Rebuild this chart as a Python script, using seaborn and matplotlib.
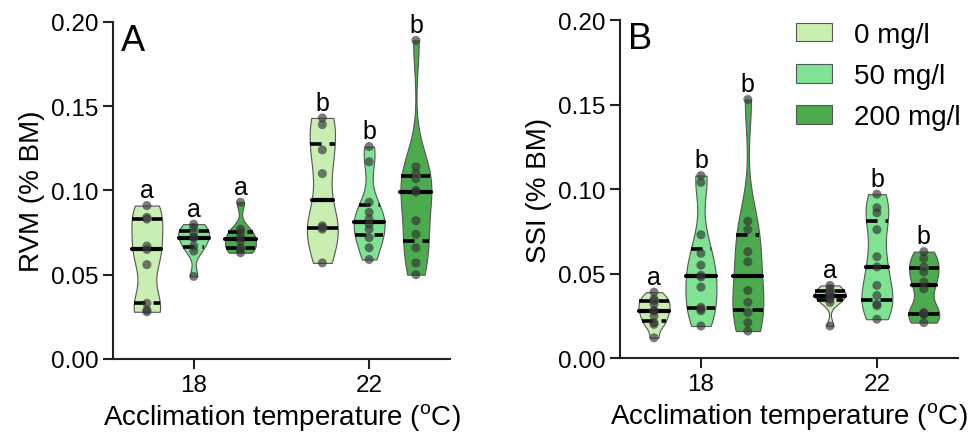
import numpy as np
import pandas as pd
import matplotlib
matplotlib.use("Agg")
import matplotlib.pyplot as plt
import seaborn as sns

temps = ["18", "22"]
doses = ["0 mg/l", "50 mg/l", "200 mg/l"]
colors = ["#c8eeb2", "#7fe393", "#4cab4f"]

# RVM (% BM), panel A
rvm_18_0 = [0.091, 0.084, 0.083, 0.067, 0.065, 0.056, 0.033, 0.029, 0.028]
rvm_18_50 = [0.080, 0.078, 0.075, 0.072, 0.072, 0.067, 0.064, 0.049]
rvm_18_200 = [0.093, 0.077, 0.075, 0.072, 0.070, 0.066, 0.065, 0.063]
rvm_22_0 = [0.143, 0.139, 0.124, 0.110, 0.079, 0.078, 0.077, 0.057]
rvm_22_50 = [0.126, 0.117, 0.093, 0.087, 0.083, 0.080, 0.077, 0.072, 0.066, 0.059]
rvm_22_200 = [0.189, 0.114, 0.110, 0.107, 0.100, 0.099, 0.082, 0.074, 0.066, 0.057, 0.050]
letters_rvm = ["a", "a", "a", "b", "b", "b"]

# SSI (% BM), panel B
ssi_18_0 = [0.039, 0.035, 0.034, 0.032, 0.028, 0.028, 0.025, 0.021, 0.020, 0.012]
ssi_18_50 = [0.108, 0.104, 0.073, 0.062, 0.055, 0.049, 0.048, 0.042, 0.030, 0.029, 0.028, 0.019]
ssi_18_200 = [0.153, 0.081, 0.076, 0.063, 0.057, 0.040, 0.033, 0.027, 0.021, 0.016]
ssi_22_0 = [0.043, 0.041, 0.039, 0.038, 0.036, 0.035, 0.033, 0.019]
ssi_22_50 = [0.097, 0.089, 0.086, 0.076, 0.060, 0.054, 0.043, 0.037, 0.032, 0.031, 0.023]
ssi_22_200 = [0.063, 0.059, 0.054, 0.051, 0.045, 0.041, 0.027, 0.026, 0.026, 0.021]
letters_ssi = ["a", "b", "b", "a", "b", "b"]


def make_df(groups):
    rows = []
    for (t, d), vals in groups.items():
        for v in vals:
            rows.append({"temp": t, "dose": d, "value": v})
    return pd.DataFrame(rows)


df_a = make_df({
    ("18", "0 mg/l"): rvm_18_0, ("18", "50 mg/l"): rvm_18_50, ("18", "200 mg/l"): rvm_18_200,
    ("22", "0 mg/l"): rvm_22_0, ("22", "50 mg/l"): rvm_22_50, ("22", "200 mg/l"): rvm_22_200,
})
df_b = make_df({
    ("18", "0 mg/l"): ssi_18_0, ("18", "50 mg/l"): ssi_18_50, ("18", "200 mg/l"): ssi_18_200,
    ("22", "0 mg/l"): ssi_22_0, ("22", "50 mg/l"): ssi_22_50, ("22", "200 mg/l"): ssi_22_200,
})

sns.set_style("ticks")
plt.rcParams["font.family"] = ["Liberation Sans", "DejaVu Sans"]
plt.rcParams["mathtext.default"] = "regular"
plt.rcParams["text.color"] = "black"
plt.rcParams["axes.labelcolor"] = "black"
plt.rcParams["xtick.color"] = "black"
plt.rcParams["ytick.color"] = "black"

fig = plt.figure(figsize=(9.68, 4.39), dpi=100)
ax_a = fig.add_axes([0.1167, 0.180, 0.348, 0.768])
ax_b = fig.add_axes([0.6405, 0.182, 0.349, 0.770])


def draw_panel(ax, df, letters, ylabel, tag):
    n0 = len(ax.lines)
    sns.violinplot(data=df, x="temp", y="value", hue="dose", order=temps, hue_order=doses,
                   palette=colors, dodge=True, width=0.8, gap=0.34, cut=0, bw_adjust=0.7,
                   density_norm="width", inner="quart", linewidth=0.8, linecolor="#555555",
                   inner_kws=dict(color="black", linewidth=2.6), saturation=1, legend=False, ax=ax)
    inner = ax.lines[n0:]
    tops = []
    for i in range(0, len(inner), 3):
        trio = sorted(inner[i:i + 3], key=lambda l: np.mean(l.get_ydata()))
        for k, ln in enumerate(trio):
            if k == 1:
                ln.set_linestyle("-")
                ln.set_linewidth(3.0)
            else:
                ln.set_dashes((3.2, 2.2))
        tops.append(np.mean(trio[1].get_xdata()))
    sns.stripplot(data=df, x="temp", y="value", hue="dose", order=temps, hue_order=doses,
                  dodge=True, jitter=False, palette=["#333333"] * 3, alpha=0.65, size=6.5,
                  linewidth=0, legend=False, ax=ax)

    # significance letters above each violin
    grp = df.groupby(["temp", "dose"])["value"].max()
    keys = [(t, d) for t in temps for d in doses]
    xs = sorted(tops)
    for x, key, lab in zip(xs, keys, letters):
        ax.text(x, grp[key] + 0.002, lab, ha="center", va="bottom", fontsize=18)

    ax.set_xlim(-0.46, 1.46)
    ax.set_ylim(0, 0.2)
    ax.set_yticks([0, 0.05, 0.10, 0.15, 0.20])
    ax.set_yticklabels(["0.00", "0.05", "0.10", "0.15", "0.20"])
    ax.set_ylabel(ylabel, fontsize=20)
    ax.set_xlabel(r"Acclimation temperature ($^{o}$C)", fontsize=20)
    ax.tick_params(axis="both", labelsize=17.5, length=7, width=1.5, color="#222222")
    for s in ["left", "bottom"]:
        ax.spines[s].set_linewidth(1.5)
        ax.spines[s].set_color("#222222")
    sns.despine(ax=ax)
    ax.text(0.025, 0.998, tag, transform=ax.transAxes, ha="left", va="top", fontsize=26)


draw_panel(ax_a, df_a, letters_rvm, "RVM (% BM)", "A")
draw_panel(ax_b, df_b, letters_ssi, "SSI (% BM)", "B")

handles = [plt.Rectangle((0, 0), 1, 1, facecolor=c, edgecolor="#555555", linewidth=0.8) for c in colors]
fig.legend(handles, doses, loc="upper left", bbox_to_anchor=(0.822, 0.948), frameon=False,
           fontsize=20, handlelength=1.3, handleheight=0.65, handletextpad=0.8,
           labelspacing=0.55, borderpad=0, borderaxespad=0)

fig.savefig("out.png", dpi=100)
